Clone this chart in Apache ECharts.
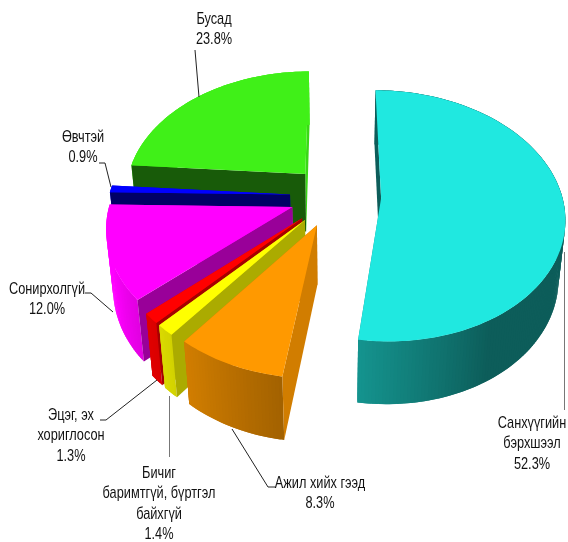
<!DOCTYPE html>
<html><head><meta charset="utf-8">
<script src="https://cdn.jsdelivr.net/npm/echarts@6/dist/echarts.min.js"></script>
<style>html,body{margin:0;padding:0;background:#fff}#c{width:568px;height:542px}</style>
</head><body><div id="c"></div>
<script>
const categories = ['Санхүүгийн\nбэрхшээл','Ажил хийх гээд','Бичиг\nбаримтгүй, бүртгэл\nбайхгүй','Эцэг, эх\nхориглосон','Сонирхолгүй','Өвчтэй','Бусад'];
const values = [52.3, 8.3, 1.4, 1.3, 12.0, 0.9, 23.8];
const colors = ['#20e8e0','#ff9900','#ffff00','#ff0000','#ff00ff','#0000ff','#40f018'];
const startWallShade = [0.40,0.82,0.67,0.65,0.60,0.40,0.38];
const endWallShade = [0.62,0.80,0.82,0.85,0.95,0.9,0.9];
const drawOrder = [0,6,5,4,3,2,1];
// camera and explosion of the 3D pie
const cam = {px:335.5, py:196, A:181, B:122.5, C:60, k:0.14, m:0.03, explode:0.252};
// label layout: [centre x, first-line y], leader polyline
const labelPos = [[532,423],[320,483],[159,473],[71,415],[47,289],[83,137],[214,19]];
const leaders = [
  [[564.5,252],[564.5,410]],
  [[232,429],[268,487],[275,487]],
  [[169.5,396],[169.5,457]],
  [[157,380],[106,420],[100,420]],
  [[113,312],[91,293],[85,293]],
  [[111,187],[105,163],[99,163]],
  [[199,97],[195,50]]
];
const leaderColor = ['#777','#222','#777','#222','#222','#222','#222'];

function project(x,y,z){
  const w = 1 + cam.k*y + cam.m*z;
  return [cam.px + cam.A*x/w, cam.py - (cam.B*y - cam.C*z)/w];
}
function shadeColor(hex,s){
  const n=parseInt(hex.slice(1),16);
  const r=(n>>16)&255,g=(n>>8)&255,b=n&255;
  return 'rgb('+Math.round(r*s)+','+Math.round(g*s)+','+Math.round(b*s)+')';
}
function arcShade(deg){ return Math.max(0.4, Math.min(1, 0.4 + (deg-150)*0.0062)); }
const total = values.reduce((a,b)=>a+b,0);
const angles = []; let acc=0;
values.forEach(v=>{ angles.push([acc/total*360,(acc+v)/total*360]); acc+=v; });

function renderItem(params, api){
  const i = api.value(0);
  const a0=angles[i][0], a1=angles[i][1], mid=(a0+a1)/2*Math.PI/180;
  const ex=Math.sin(mid)*cam.explode, ey=Math.cos(mid)*cam.explode;
  const pt=(deg,r,z)=>{const t=deg*Math.PI/180;return project(ex+r*Math.sin(t),ey+r*Math.cos(t),z);};
  const col=colors[i];
  const poly=(pts,fill)=>({type:'polygon',shape:{points:pts},style:{fill:fill}});
  const ch=[];
  ch.push(poly([pt(a1,0,0),pt(a1,1,0),pt(a1,1,1),pt(a1,0,1)],shadeColor(col,endWallShade[i])));
  const step=1; const n=Math.max(2,Math.ceil((a1-a0)/step));
  for(let j=0;j<n;j++){
    const d0=a0+(a1-a0)*j/n,d1=Math.min(a1,a0+(a1-a0)*(j+2)/n);
    ch.push(poly([pt(d0,1,0),pt(d1,1,0),pt(d1,1,1),pt(d0,1,1)],shadeColor(col,arcShade(a0+(a1-a0)*(j+0.5)/n))));
  }
  ch.push(poly([pt(a0,0,0),pt(a0,1,0),pt(a0,1,1),pt(a0,0,1)],shadeColor(col,startWallShade[i])));
  const top=[pt(a0,0,0)];
  for(let j=0;j<=n;j++) top.push(pt(a0+(a1-a0)*j/n,1,0));
  ch.push(poly(top,col));
  return {type:'group',children:ch};
}

const graphics=[];
leaders.forEach((l,i)=>graphics.push({type:'polyline',z:20,shape:{points:l},style:{fill:null,stroke:leaderColor[i],lineWidth:1}}));
categories.forEach((c,i)=>{
  const lines=c.split('\n').concat([values[i].toFixed(1)+'%']);
  lines.forEach((t,j)=>graphics.push({type:'text',z:21,x:labelPos[i][0],y:labelPos[i][1]+j*20.5,scaleX:0.75,
    style:{text:t,fill:'#111',font:'17px "Liberation Sans",sans-serif',textAlign:'center',textVerticalAlign:'middle'}}));
});

const chart=echarts.init(document.getElementById('c'),null,{renderer:'canvas'});
chart.setOption({
  animation:false,
  backgroundColor:'#fff',
  graphic:graphics,
  series:[{type:'custom',coordinateSystem:'none',silent:true,clip:false,renderItem:renderItem,
    data:drawOrder.map(i=>[i,values[i]]),encode:{value:[0,1]}}]
});
</script></body></html>
